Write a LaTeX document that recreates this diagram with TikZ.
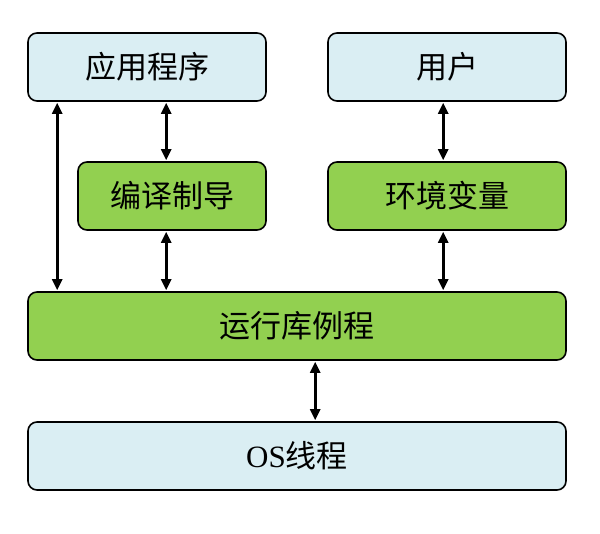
\documentclass[tikz,border=0pt]{standalone}
\usepackage{fontspec}
\setmainfont{Liberation Serif}
\newfontfamily\cjk{Noto Sans CJK SC}
\usetikzlibrary{arrows.meta,positioning}
\definecolor{boxblue}{RGB}{218,238,243}
\definecolor{boxgreen}{RGB}{146,208,80}
\tikzset{
  blk/.style={draw=black,line width=1.6pt,rounded corners=9pt,
              minimum height=68pt,inner sep=0pt,
              font=\fontsize{31}{36}\selectfont\cjk},
  blkB/.style={blk,fill=boxblue},
  blkG/.style={blk,fill=boxgreen},
  bi/.style={{Triangle[width=10pt,length=11pt]}-{Triangle[width=10pt,length=11pt]},
             line width=2.8pt,shorten <=1pt,shorten >=1pt},
}
\begin{document}
\begin{tikzpicture}[x=1pt,y=-1pt]
    \useasboundingbox (0,0) rectangle (600,534);
    \node[blkB,minimum width=238pt] (app) at (147,67) {应用程序};
    \node[blkB,minimum width=238pt] (user) at (447,67) {用户};
    \node[blkG,minimum width=188pt] (comp) at (172,196) {编译制导};
    \node[blkG,minimum width=238pt] (env) at (447,196) {环境变量};
    \node[blkG,minimum width=538pt] (rt) at (297,326) {运行库例程};
    \node[blkB,minimum width=538pt] (os) at (297,456)
      {{\fontsize{31}{36}\selectfont\rmfamily OS}线程};
    \draw[bi] ([xshift=30pt]app.south west) -- ([xshift=30pt]rt.north west);
    \draw[bi] ([xshift=139pt]app.south west) -- ([xshift=89pt]comp.north west);
    \draw[bi] ([xshift=89pt]comp.south west) -- ([xshift=139pt]rt.north west);
    \draw[bi] ([xshift=116pt]user.south west) -- ([xshift=116pt]env.north west);
    \draw[bi] ([xshift=116pt]env.south west) -- ([xshift=416pt]rt.north west);
    \draw[bi] ([xshift=288pt]rt.south west) -- ([xshift=288pt]os.north west);
  \end{tikzpicture}
\end{document}
